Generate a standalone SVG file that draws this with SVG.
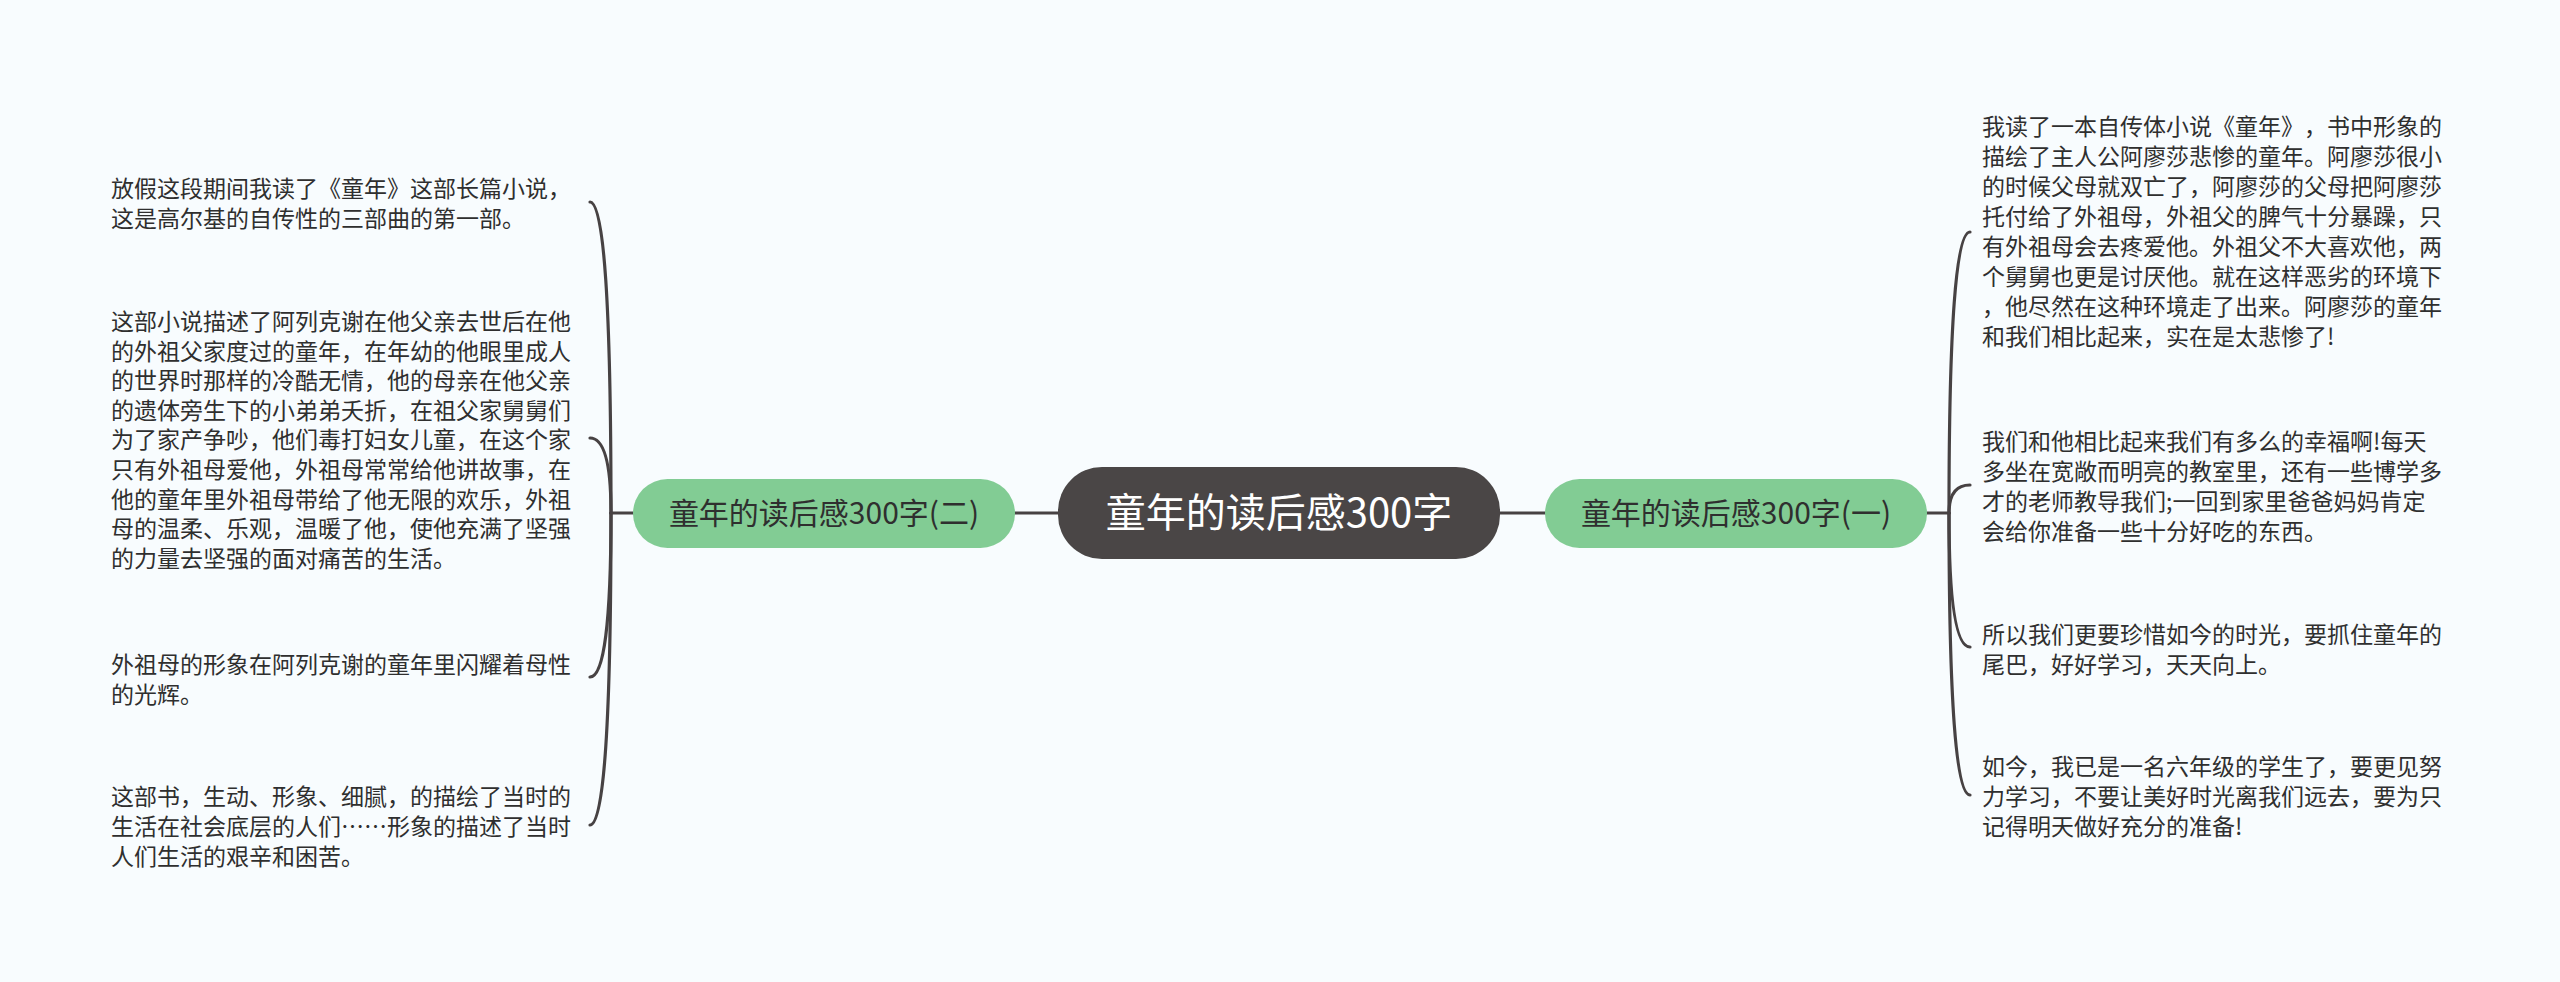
<svg xmlns="http://www.w3.org/2000/svg" width="2560" height="982" viewBox="0 0 2560 982">
<style>
.bg{fill:#f8fcfe}
.ln{fill:none;stroke:#474243;stroke-width:3.2;stroke-linecap:round}
.leaf{font-family:"Noto Sans CJK SC","Noto Sans",sans-serif;font-size:23px;fill:#2f2f2f;text-spacing-trim:space-all}
.sub{font-family:"Noto Sans CJK SC","Noto Sans",sans-serif;font-size:30px;fill:#2f2f2f;text-anchor:middle}
.root{font-family:"Noto Sans CJK SC","Noto Sans",sans-serif;font-size:40px;fill:#ffffff;text-anchor:middle}
.green{fill:#82cc94}
.dark{fill:#4a4646}
</style>
<rect class="bg" x="0" y="0" width="2560" height="982"/>
<g id="connectors">
<line class="ln" x1="1015" y1="513" x2="1058" y2="513"/>
<line class="ln" x1="1500" y1="513" x2="1545" y2="513"/>
<line class="ln" x1="611" y1="513" x2="633" y2="513"/>
<line class="ln" x1="1927" y1="513" x2="1949" y2="513"/>
<path class="ln" d="M611 513 Q611 202 590 202"/>
<path class="ln" d="M611 513 Q611 438 590 438"/>
<path class="ln" d="M611 513 Q611 677 590 677"/>
<path class="ln" d="M611 513 Q611 825 590 825"/>
<path class="ln" d="M1949 513 Q1949 232 1970 232"/>
<path class="ln" d="M1949 513 Q1949 485 1970 485"/>
<path class="ln" d="M1949 513 Q1949 647 1970 647"/>
<path class="ln" d="M1949 513 Q1949 795 1970 795"/>
</g>
<g id="root">
<rect class="dark" x="1058" y="467" width="442" height="92" rx="44" ry="44"/>
<text class="root" x="1279" y="527">童年的读后感300字</text>
</g>
<g id="left-branch">
<rect class="green" x="633" y="479" width="382" height="69" rx="34.5" ry="34.5"/>
<text class="sub" x="824" y="523.5">童年的读后感300字(二)</text>
</g>
<g id="right-branch">
<rect class="green" x="1545" y="479" width="382" height="69" rx="34.5" ry="34.5"/>
<text class="sub" x="1736" y="523.5">童年的读后感300字(一)</text>
</g>
<g id="left-1">
<text class="leaf"><tspan x="111" y="197">放假这段期间我读了《童年》这部长篇小说，</tspan><tspan x="111" y="227">这是高尔基的自传性的三部曲的第一部。</tspan></text>
</g>
<g id="left-2">
<text class="leaf"><tspan x="111" y="330">这部小说描述了阿列克谢在他父亲去世后在他</tspan><tspan x="111" y="360">的外祖父家度过的童年，在年幼的他眼里成人</tspan><tspan x="111" y="389">的世界时那样的冷酷无情，他的母亲在他父亲</tspan><tspan x="111" y="419">的遗体旁生下的小弟弟夭折，在祖父家舅舅们</tspan><tspan x="111" y="448">为了家产争吵，他们毒打妇女儿童，在这个家</tspan><tspan x="111" y="478">只有外祖母爱他，外祖母常常给他讲故事，在</tspan><tspan x="111" y="508">他的童年里外祖母带给了他无限的欢乐，外祖</tspan><tspan x="111" y="537">母的温柔、乐观，温暖了他，使他充满了坚强</tspan><tspan x="111" y="567">的力量去坚强的面对痛苦的生活。</tspan></text>
</g>
<g id="left-3">
<text class="leaf"><tspan x="111" y="673">外祖母的形象在阿列克谢的童年里闪耀着母性</tspan><tspan x="111" y="703">的光辉。</tspan></text>
</g>
<g id="left-4">
<text class="leaf"><tspan x="111" y="805">这部书，生动、形象、细腻，的描绘了当时的</tspan><tspan x="111" y="835">生活在社会底层的人们……形象的描述了当时</tspan><tspan x="111" y="865">人们生活的艰辛和困苦。</tspan></text>
</g>
<g id="right-1">
<text class="leaf"><tspan x="1982" y="135">我读了一本自传体小说《童年》，书中形象的</tspan><tspan x="1982" y="165">描绘了主人公阿廖莎悲惨的童年。阿廖莎很小</tspan><tspan x="1982" y="195">的时候父母就双亡了，阿廖莎的父母把阿廖莎</tspan><tspan x="1982" y="225">托付给了外祖母，外祖父的脾气十分暴躁，只</tspan><tspan x="1982" y="255">有外祖母会去疼爱他。外祖父不大喜欢他，两</tspan><tspan x="1982" y="285">个舅舅也更是讨厌他。就在这样恶劣的环境下</tspan><tspan x="1982" y="315">，他尽然在这种环境走了出来。阿廖莎的童年</tspan><tspan x="1982" y="345">和我们相比起来，实在是太悲惨了!</tspan></text>
</g>
<g id="right-2">
<text class="leaf"><tspan x="1982" y="450">我们和他相比起来我们有多么的幸福啊!每天</tspan><tspan x="1982" y="480">多坐在宽敞而明亮的教室里，还有一些博学多</tspan><tspan x="1982" y="510">才的老师教导我们;一回到家里爸爸妈妈肯定</tspan><tspan x="1982" y="540">会给你准备一些十分好吃的东西。</tspan></text>
</g>
<g id="right-3">
<text class="leaf"><tspan x="1982" y="643">所以我们更要珍惜如今的时光，要抓住童年的</tspan><tspan x="1982" y="673">尾巴，好好学习，天天向上。</tspan></text>
</g>
<g id="right-4">
<text class="leaf"><tspan x="1982" y="775">如今，我已是一名六年级的学生了，要更见努</tspan><tspan x="1982" y="805">力学习，不要让美好时光离我们远去，要为只</tspan><tspan x="1982" y="835">记得明天做好充分的准备!</tspan></text>
</g>
</svg>
